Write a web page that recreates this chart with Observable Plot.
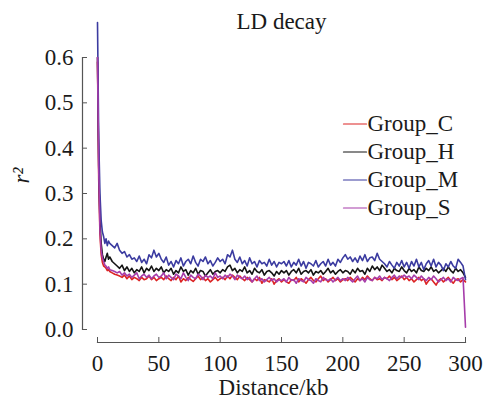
<!DOCTYPE html>
<html><head><meta charset="utf-8">
<script src="https://cdn.jsdelivr.net/npm/d3@7"></script>
<script src="https://cdn.jsdelivr.net/npm/@observablehq/plot@0.6"></script>
<style>body{margin:0;background:#fff} svg text{font-family:'Liberation Serif','Times New Roman',serif}</style>
</head><body><div id="chart"></div>
<script>
const groups = ["Group_C", "Group_H", "Group_M", "Group_S"];
const colors = ["#dc2424", "#141414", "#3b3ba0", "#a63caa"];
const yTicks = [0, 0.1, 0.2, 0.3, 0.4, 0.5, 0.6];
const xTicks = [0, 50, 100, 150, 200, 250, 300];

const distances = [0,1,2,3,4,5,6,7,8,9,10,
  12,14,16,18,20,22,24,26,28,30,32,34,36,38,40,42,44,46,48,50,
  52,54,56,58,60,62,64,66,68,70,72,74,76,78,80,82,84,86,88,90,92,94,96,98,100,
  102,104,106,108,110,112,114,116,118,120,122,124,126,128,130,132,134,136,138,140,142,144,146,148,150,
  152,154,156,158,160,162,164,166,168,170,172,174,176,178,180,182,184,186,188,190,192,194,196,198,200,
  202,204,206,208,210,212,214,216,218,220,222,224,226,228,230,232,234,236,238,240,242,244,246,248,250,
  252,254,256,258,260,262,264,266,268,270,272,274,276,278,280,282,284,286,288,290,292,294,296,298,300];

const groupC = [0.59,0.33,0.21,0.165,0.148,0.14,0.138,0.135,0.13,0.132,0.128,
  0.125,0.122,0.12,0.118,0.115,0.12,0.112,0.118,0.11,0.115,0.112,0.108,0.115,0.11,0.112,0.118,0.11,0.115,0.108,0.112,
  0.115,0.11,0.118,0.112,0.108,0.115,0.11,0.118,0.105,0.112,0.108,0.115,0.11,0.106,0.112,0.118,0.11,0.115,0.108,0.112,0.105,0.11,0.115,0.108,0.112,
  0.115,0.11,0.118,0.112,0.12,0.115,0.11,0.118,0.112,0.108,0.115,0.11,0.105,0.112,0.108,0.115,0.102,0.11,0.108,0.105,0.112,0.1,0.108,0.112,0.105,
  0.11,0.105,0.102,0.11,0.108,0.115,0.105,0.112,0.108,0.102,0.11,0.115,0.108,0.105,0.112,0.118,0.108,0.112,0.105,0.11,0.115,0.108,0.112,0.105,0.11,
  0.112,0.108,0.115,0.11,0.105,0.112,0.108,0.115,0.11,0.118,0.112,0.108,0.115,0.11,0.112,0.108,0.115,0.112,0.118,0.11,0.115,0.108,0.112,0.118,0.11,
  0.115,0.108,0.112,0.105,0.11,0.115,0.108,0.112,0.1,0.108,0.112,0.105,0.098,0.108,0.112,0.105,0.11,0.115,0.108,0.102,0.11,0.112,0.105,0.11,0.105];

const groupH = [0.60,0.36,0.24,0.19,0.165,0.155,0.15,0.16,0.168,0.155,0.16,
  0.15,0.145,0.14,0.135,0.142,0.13,0.138,0.128,0.135,0.125,0.132,0.128,0.138,0.125,0.135,0.13,0.14,0.128,0.135,0.13,
  0.138,0.125,0.132,0.128,0.135,0.122,0.13,0.125,0.138,0.128,0.132,0.12,0.13,0.125,0.135,0.122,0.13,0.128,0.118,0.125,0.132,0.122,0.128,0.13,0.125,
  0.132,0.128,0.138,0.142,0.13,0.135,0.125,0.132,0.128,0.138,0.125,0.13,0.122,0.135,0.128,0.125,0.132,0.12,0.128,0.13,0.125,0.118,0.128,0.122,0.13,
  0.125,0.13,0.12,0.128,0.132,0.125,0.135,0.122,0.128,0.13,0.125,0.132,0.12,0.128,0.125,0.13,0.122,0.128,0.135,0.125,0.13,0.122,0.128,0.132,0.125,
  0.13,0.128,0.122,0.132,0.125,0.135,0.128,0.13,0.122,0.135,0.128,0.14,0.132,0.138,0.13,0.142,0.135,0.128,0.132,0.125,0.135,0.13,0.128,0.138,0.13,
  0.125,0.135,0.128,0.132,0.125,0.138,0.13,0.128,0.135,0.13,0.138,0.128,0.132,0.125,0.13,0.135,0.128,0.138,0.13,0.125,0.135,0.128,0.132,0.125,0.115];

const groupM = [0.677,0.42,0.30,0.24,0.215,0.205,0.19,0.20,0.185,0.195,0.19,
  0.185,0.18,0.19,0.175,0.168,0.172,0.16,0.165,0.155,0.158,0.15,0.162,0.148,0.155,0.145,0.165,0.158,0.175,0.16,0.168,
  0.155,0.148,0.16,0.142,0.15,0.138,0.152,0.145,0.158,0.14,0.15,0.155,0.145,0.162,0.148,0.14,0.155,0.15,0.16,0.145,0.152,0.14,0.148,0.158,0.15,
  0.155,0.145,0.165,0.16,0.175,0.155,0.148,0.16,0.145,0.152,0.14,0.158,0.145,0.15,0.138,0.152,0.145,0.148,0.14,0.155,0.142,0.15,0.138,0.148,0.145,
  0.15,0.14,0.152,0.138,0.148,0.142,0.155,0.14,0.15,0.135,0.148,0.145,0.14,0.152,0.138,0.145,0.15,0.14,0.155,0.142,0.148,0.14,0.155,0.148,0.158,
  0.165,0.155,0.16,0.15,0.158,0.148,0.162,0.152,0.165,0.15,0.158,0.16,0.152,0.168,0.155,0.15,0.145,0.138,0.15,0.142,0.135,0.148,0.14,0.152,0.138,
  0.148,0.135,0.15,0.14,0.155,0.138,0.148,0.132,0.145,0.152,0.14,0.155,0.138,0.148,0.142,0.13,0.145,0.138,0.15,0.14,0.135,0.155,0.148,0.14,0.11];

const groupS = [0.60,0.35,0.22,0.175,0.158,0.15,0.142,0.14,0.135,0.138,0.132,
  0.13,0.128,0.125,0.128,0.12,0.125,0.118,0.122,0.115,0.12,0.125,0.112,0.118,0.122,0.115,0.12,0.112,0.118,0.122,0.115,
  0.118,0.125,0.112,0.12,0.115,0.11,0.122,0.118,0.112,0.125,0.115,0.108,0.12,0.115,0.112,0.122,0.118,0.11,0.12,0.115,0.118,0.112,0.125,0.115,0.118,
  0.112,0.12,0.115,0.122,0.118,0.11,0.12,0.115,0.112,0.118,0.11,0.115,0.105,0.112,0.118,0.108,0.112,0.105,0.11,0.115,0.108,0.112,0.105,0.11,0.108,
  0.112,0.105,0.115,0.108,0.11,0.102,0.112,0.108,0.105,0.115,0.11,0.108,0.102,0.112,0.108,0.105,0.115,0.11,0.108,0.112,0.105,0.11,0.115,0.108,0.112,
  0.108,0.115,0.11,0.105,0.112,0.118,0.108,0.112,0.105,0.115,0.11,0.108,0.115,0.112,0.118,0.11,0.115,0.112,0.108,0.115,0.12,0.112,0.118,0.115,0.12,
  0.115,0.118,0.112,0.12,0.115,0.11,0.118,0.112,0.108,0.115,0.11,0.118,0.112,0.105,0.11,0.115,0.108,0.112,0.105,0.115,0.11,0.108,0.112,0.115,0.005];

const seriesValues = [groupC, groupH, groupM, groupS];
const table = [];
groups.forEach((g, gi) => {
  const vals = seriesValues[gi];
  const n = Math.min(vals.length, distances.length);
  for (let i = 0; i < n; i++) table.push({group: g, d: distances[i], r2: vals[i]});
});

const font = "'Liberation Serif', 'Times New Roman', serif";
const fs = 23;
const lineShape = {draw(context, l) { context.moveTo(0, 0); context.lineTo(0, -l); }};

const legendMarks = [];
groups.forEach((g, i) => {
  legendMarks.push(Plot.vector([g], {frameAnchor: "top-left", dx: 246, dy: 66.5 + i * 28, length: 23, rotate: 90, anchor: "start", shape: lineShape, stroke: colors[i], strokeWidth: 1.2}));
  legendMarks.push(Plot.text([g], {frameAnchor: "top-left", dx: 270, dy: 66.5 + i * 28, text: d => d, textAnchor: "start", lineAnchor: "middle", fontSize: fs, fontFamily: font, fill: "#1a1a1a"}));
});

const plot = Plot.plot({
  width: 485, height: 401,
  marginTop: 57, marginBottom: 72, marginLeft: 97, marginRight: 20,
  style: {fontFamily: font, fontSize: fs + "px", background: "#fff", color: "#1a1a1a"},
  x: {domain: [0, 300]},
  y: {domain: [0, 0.6]},
  color: {domain: groups, range: colors},
  marks: [
    Plot.frame({anchor: "left", dx: -15, stroke: "#555", strokeWidth: 1.2}),
    Plot.frame({anchor: "bottom", dy: 13, stroke: "#555", strokeWidth: 1.2}),
    Plot.axisY({ticks: yTicks, tickSize: -5, fill: "none", dx: -15, label: null, stroke: "#555"}),
    Plot.axisY({ticks: yTicks, tickSize: 0, tickPadding: 9, dx: -15, label: null, tickFormat: d3.format(".1f"), fontSize: fs, fontFamily: font, fill: "#1a1a1a"}),
    Plot.axisX({ticks: xTicks, tickSize: -5, fill: "none", dy: 13, label: null, stroke: "#555"}),
    Plot.axisX({ticks: xTicks, tickSize: 0, tickPadding: 25, label: null, fontSize: fs, fontFamily: font, fill: "#1a1a1a"}),
    Plot.lineY(table, {x: "d", y: "r2", stroke: "group", strokeWidth: 1.6}),
    Plot.text(["LD decay"], {frameAnchor: "top", dy: -36, lineAnchor: "middle", text: d => d, fontSize: fs, fontFamily: font, fill: "#1a1a1a"}),
    Plot.text(["Distance/kb"], {frameAnchor: "bottom", dy: 58, dx: -8, lineAnchor: "middle", text: d => d, fontSize: fs, fontFamily: font, fill: "#1a1a1a"}),
    Plot.text(["r²"], {frameAnchor: "left", dx: -76, dy: -10, rotate: -90, lineAnchor: "middle", text: d => d, fontSize: fs, fontFamily: font, fontStyle: "italic", fill: "#1a1a1a"}),
    ...legendMarks
  ]
});
document.getElementById("chart").appendChild(plot);
</script>
</body></html>
